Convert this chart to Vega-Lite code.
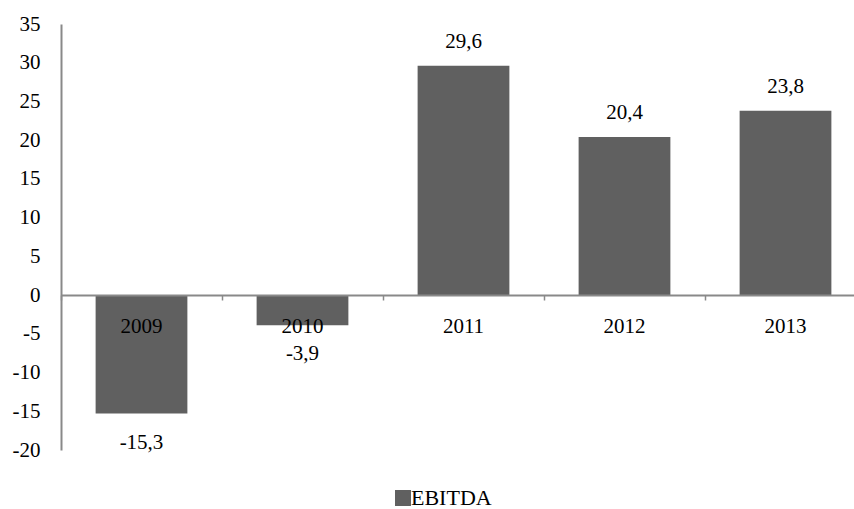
{
  "$schema": "https://vega.github.io/schema/vega-lite/v6.json",
  "width": 793,
  "height": 426,
  "autosize": "none",
  "padding": {"left": 61, "top": 24, "right": 0, "bottom": 59},
  "background": "white",
  "config": {
    "view": {"stroke": null},
    "font": "Liberation Serif",
    "text": {"font": "Liberation Serif"},
    "axis": {"labelFont": "Liberation Serif"},
    "legend": {"labelFont": "Liberation Serif"},
    "locale": {
      "number": {"decimal": ",", "thousands": ".", "grouping": [3], "currency": ["", ""], "minus": "-"}
    }
  },
  "data": {
    "values": [
      {"year": "2009", "value": -15.3, "series": "EBITDA"},
      {"year": "2010", "value": -3.9, "series": "EBITDA"},
      {"year": "2011", "value": 29.6, "series": "EBITDA"},
      {"year": "2012", "value": 20.4, "series": "EBITDA"},
      {"year": "2013", "value": 23.8, "series": "EBITDA"}
    ]
  },
  "encoding": {
    "x": {
      "field": "year",
      "type": "nominal",
      "sort": null,
      "scale": {"range": [0, 805], "paddingInner": 0, "paddingOuter": 0},
      "axis": {
        "title": null,
        "orient": "bottom",
        "offset": -155,
        "zindex": 1,
        "labelAngle": 0,
        "labelFontSize": 21,
        "labelColor": "#000000",
        "labelBaseline": "middle",
        "labelPadding": 26,
        "bandPosition": 0,
        "tickSize": 5,
        "tickColor": "#898989",
        "tickWidth": 1.5,
        "domainColor": "#898989",
        "domainWidth": 2,
        "grid": false
      }
    },
    "y": {
      "field": "value",
      "type": "quantitative",
      "scale": {"domain": [-20, 35], "nice": false, "zero": false},
      "axis": {
        "title": null,
        "values": [-20, -15, -10, -5, 0, 5, 10, 15, 20, 25, 30, 35],
        "format": "d",
        "labelFontSize": 21,
        "labelColor": "#000000",
        "labelPadding": 21,
        "ticks": false,
        "grid": false,
        "domainColor": "#898989",
        "domainWidth": 2
      }
    }
  },
  "layer": [
    {
      "mark": {"type": "bar", "width": {"band": 0.57}},
      "encoding": {
        "color": {
          "field": "series",
          "type": "nominal",
          "scale": {"range": ["#606060"]},
          "legend": {
            "title": null,
            "orient": "none",
            "legendX": 331,
            "legendY": 463,
            "padding": 0,
            "symbolType": "square",
            "symbolSize": 256,
            "symbolStrokeWidth": 0,
            "labelFont": "Liberation Serif",
            "labelFontSize": 22,
            "labelColor": "#000000",
            "labelOffset": -3
          }
        }
      }
    },
    {
      "transform": [{"filter": "datum.value >= 0"}],
      "mark": {"type": "text", "baseline": "middle", "dy": -24, "font": "Liberation Serif", "fontSize": 21, "color": "#000000"},
      "encoding": {"text": {"field": "value", "type": "quantitative", "format": ".1f"}}
    },
    {
      "transform": [{"filter": "datum.value < 0"}],
      "mark": {"type": "text", "baseline": "middle", "dy": 29, "font": "Liberation Serif", "fontSize": 21, "color": "#000000"},
      "encoding": {"text": {"field": "value", "type": "quantitative", "format": ".1f"}}
    }
  ]
}
